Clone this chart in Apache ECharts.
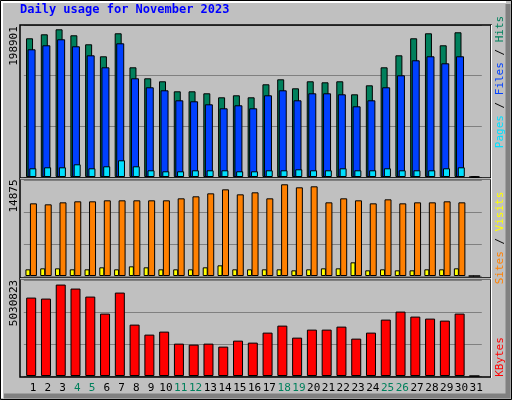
<!DOCTYPE html>
<html>
<head>
<meta charset="utf-8">
<script src="https://cdn.jsdelivr.net/npm/echarts@6/dist/echarts.min.js"></script>
<style>
html,body{margin:0;padding:0;background:#c0c0c0;}
#chart{width:512px;height:400px;}
</style>
</head>
<body>
<div id="chart"></div>
<script>
// 数据
var days = [];
for (var d = 1; d <= 31; d++) days.push(String(d));
var weekends = ['4','5','11','12','18','19','25','26'];

var hits = [186790,192170,198901,190830,178710,162550,193520,147730,132920,128880,
            115410,115410,112720,107330,110030,107330,124840,131570,119450,128880,
            127530,128880,111370,123490,147730,163890,186790,193520,177360,194870,0];
var files = [171970,177360,185440,176020,163890,147730,180050,132920,120800,116760,
             103290,101950,97900,92520,96560,92520,110030,116760,103290,112720,
             112720,111370,95210,103290,120800,136960,157160,162550,153120,162550,0];
var pages = [11700,13060,13060,17100,11700,14410,22490,14410,9020,7680,
             7680,9020,9020,9020,7680,7680,9020,9020,10370,9020,
             9020,11700,9020,9020,11700,9020,9020,9020,11700,13060,0];
var sites = [11787,11625,11949,12112,12112,12274,12274,12274,12274,12274,
             12598,12923,13409,14058,13247,13572,12598,14875,14383,14545,
             11949,12598,12274,11787,12436,11787,11949,11949,12112,11949,0];
var visits = [1081,1244,1244,1081,1081,1406,1081,1568,1406,1081,
              1081,1081,1406,1730,1081,1081,1081,1081,919,1081,
              1244,1244,2217,919,1081,919,919,1081,1081,1244,0];
var kbytes = [4314800,4259800,5030823,4810600,4369900,3433500,4590300,2827600,2276800,2442000,
              1781000,1725900,1781000,1615800,1946300,1836100,2386900,2772500,2111500,2552200,
              2552200,2717400,2056400,2386900,3103000,3543700,3268300,3158100,3047900,3433500,0];

var myChart = echarts.init(document.getElementById('chart'));
var mono = 'DejaVu Sans Mono';
var bl = {borderColor:'#000', borderWidth:1};

function yAx(idx, max){
    return {gridIndex: idx, type:'value', min:0, max:max, interval:max/3,
        axisLine:{show:false}, axisTick:{show:false}, axisLabel:{show:false},
        splitLine:{show:true, lineStyle:{color:'#808080', width:1}}};
}
function xAx(idx){
    return {gridIndex: idx, type:'category', data:days,
        axisLine:{show:false}, axisTick:{show:false}, axisLabel:{show:false}};
}
function sideText(x, y, rich, text){
    return {type:'text', x:x, y:y, rotation:Math.PI/2,
        style:{text:text, rich:rich, font:'11px ' + mono, fill:'#000', align:'center', verticalAlign:'middle'}};
}

option = {
    animation:false,
    backgroundColor:'#c0c0c0',
    grid: [
        {left:23.8, width:458, top:25, height:152},
        {left:23.8, width:458, top:180.5, height:95.5},
        {left:23.8, width:458, top:280.5, height:95.5},
        {left:25.6, width:458, top:376, height:1}
    ],
    xAxis: [xAx(0), xAx(1), xAx(2), {
        gridIndex:3, type:'category', data:days,
        axisLine:{show:false}, axisTick:{show:false},
        axisLabel:{interval:0, margin:6, fontFamily:mono, fontSize:11,
            formatter:function(v){ return weekends.indexOf(v) >= 0 ? '{w|' + v + '}' : '{n|' + v + '}'; },
            rich:{w:{color:'#00805c', fontFamily:mono, fontSize:11}, n:{color:'#000', fontFamily:mono, fontSize:11}}}
    }],
    yAxis: [yAx(0, 204690), yAx(1, 15490), yAx(2, 5255000),
        {gridIndex:3, type:'value', show:false}],
    series: [
        {type:'bar', name:'Hits', xAxisIndex:0, yAxisIndex:0, data:hits, barWidth:7, barGap:'-78%',
         itemStyle:Object.assign({color:'#00805c'}, bl)},
        {type:'bar', name:'Files', xAxisIndex:0, yAxisIndex:0, data:files, barWidth:8, barGap:'-78%',
         itemStyle:Object.assign({color:'#0040ff'}, bl)},
        {type:'bar', name:'Pages', xAxisIndex:0, yAxisIndex:0, data:pages, barWidth:7, barGap:'-78%',
         itemStyle:Object.assign({color:'#00e0ff'}, bl)},
        {type:'bar', name:'Visits', xAxisIndex:1, yAxisIndex:1, data:visits, barWidth:5, barGap:'-10%',
         itemStyle:Object.assign({color:'#ffff00'}, bl)},
        {type:'bar', name:'Sites', xAxisIndex:1, yAxisIndex:1, data:sites, barWidth:7, barGap:'-10%',
         itemStyle:Object.assign({color:'#ff8000'}, bl)},
        {type:'bar', name:'KBytes', xAxisIndex:2, yAxisIndex:2, data:kbytes, barWidth:10,
         itemStyle:Object.assign({color:'#ff0000'}, bl)}
    ],
    graphic: [
        // 外框
        {type:'rect', shape:{x:0.5, y:0.5, width:511, height:399}, style:{fill:null, stroke:'#000', lineWidth:1}, z:100},
        {type:'polyline', shape:{points:[[2,398],[2,2],[506,2]]}, style:{stroke:'#fff', lineWidth:2, fill:null}, z:100},
        {type:'polyline', shape:{points:[[508,4],[508,396],[4,396]]}, style:{stroke:'#808080', lineWidth:5, fill:null}, z:100},
        // 图区边框
        {type:'rect', shape:{x:20, y:25, width:471, height:153}, style:{fill:null, stroke:'#000', lineWidth:1.5}, z:100},
        {type:'rect', shape:{x:20, y:179, width:471, height:99}, style:{fill:null, stroke:'#000', lineWidth:1.5}, z:100},
        {type:'rect', shape:{x:20, y:279, width:471, height:98}, style:{fill:null, stroke:'#000', lineWidth:1.5}, z:100},
        {type:'line', shape:{x1:20, y1:178.8, x2:491, y2:178.8}, style:{stroke:'#fff', lineWidth:1}, z:101},
        {type:'line', shape:{x1:20, y1:278.8, x2:491, y2:278.8}, style:{stroke:'#fff', lineWidth:1}, z:101},
        {type:'line', shape:{x1:491.5, y1:25, x2:491.5, y2:378}, style:{stroke:'#fff', lineWidth:1}, z:101},
        // 标题
        {type:'text', x:20, y:10, style:{text:'Daily usage for November 2023', font:'bold 12px ' + mono, fill:'#0000ff', verticalAlign:'middle'}},
        // 左侧最大值
        {type:'text', x:14, y:46, rotation:Math.PI/2, style:{text:'198901', font:'11px ' + mono, fill:'#000', align:'center', verticalAlign:'middle'}},
        {type:'text', x:14, y:196, rotation:Math.PI/2, style:{text:'14875', font:'11px ' + mono, fill:'#000', align:'center', verticalAlign:'middle'}},
        {type:'text', x:14, y:303, rotation:Math.PI/2, style:{text:'5030823', font:'11px ' + mono, fill:'#000', align:'center', verticalAlign:'middle'}},
        // 右侧图例
        sideText(500, 82, {p:{fill:'#00e0ff'}, f:{fill:'#0040ff'}, h:{fill:'#00805c'}, s:{fill:'#000'}},
            '{p|Pages}{s| / }{f|Files}{s| / }{h|Hits}'),
        sideText(500, 238, {a:{fill:'#ff8000'}, b:{fill:'#ffff00'}, s:{fill:'#000'}},
            '{a|Sites}{s| / }{b|Visits}'),
        sideText(500, 357, {k:{fill:'#ff0000'}}, '{k|KBytes}')
    ]
};
myChart.setOption(option);
</script>
</body>
</html>
